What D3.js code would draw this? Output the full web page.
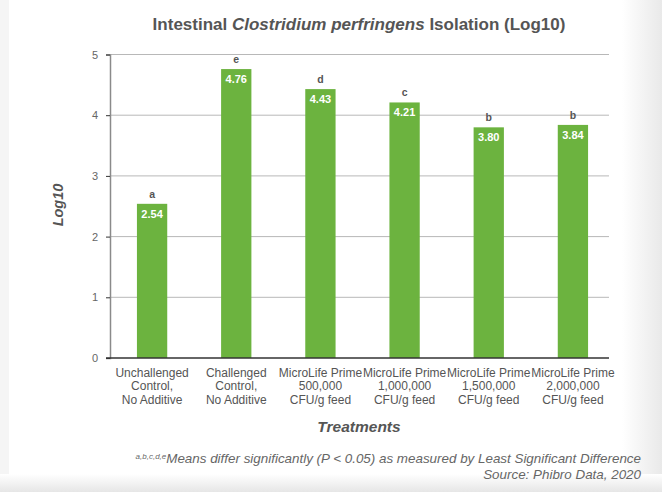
<!DOCTYPE html>
<html>
<head>
<meta charset="utf-8">
<script src="https://cdn.jsdelivr.net/npm/d3@7"></script>
<style>
  body { margin: 0; background: #fff; }
  svg { display: block; font-family: "Liberation Sans", Arial, sans-serif; }
</style>
</head>
<body>
<script>
// data
var treatments = [
  ["Unchallenged", "Control,", "No Additive"],
  ["Challenged", "Control,", "No Additive"],
  ["MicroLife Prime", "500,000", "CFU/g feed"],
  ["MicroLife Prime", "1,000,000", "CFU/g feed"],
  ["MicroLife Prime", "1,500,000", "CFU/g feed"],
  ["MicroLife Prime", "2,000,000", "CFU/g feed"]
];
var values = [2.54, 4.76, 4.43, 4.21, 3.80, 3.84];
var letters = ["a", "e", "d", "c", "b", "b"];
var yTicks = [0, 1, 2, 3, 4, 5];

var W = 662, H = 492;
var svg = d3.select("body").append("svg")
    .attr("width", W)
    .attr("height", H);

// page background: soft grey edges around a white sheet
var defs = svg.append("defs");
var gr = defs.append("linearGradient").attr("id", "rightfade")
    .attr("x1", 0).attr("x2", 1).attr("y1", 0).attr("y2", 0);
gr.append("stop").attr("offset", "0%").attr("stop-color", "#fff");
gr.append("stop").attr("offset", "100%").attr("stop-color", "#e9e9e9");
var gb = defs.append("linearGradient").attr("id", "bottomfade")
    .attr("x1", 0).attr("x2", 0).attr("y1", 0).attr("y2", 1);
gb.append("stop").attr("offset", "0%").attr("stop-color", "#fff");
gb.append("stop").attr("offset", "100%").attr("stop-color", "#e6e6e6");

svg.append("rect").attr("width", W).attr("height", H).attr("fill", "#fff");
svg.append("rect").attr("x", 0).attr("width", 9).attr("height", H).attr("fill", "#f5f5f5");
svg.append("rect").attr("x", 622).attr("width", 40).attr("height", H).attr("fill", "url(#rightfade)");
svg.append("rect").attr("y", 474).attr("width", W).attr("height", 18).attr("fill", "url(#bottomfade)");

// scales
var x = d3.scaleBand()
    .domain(d3.range(values.length))
    .range([110, 615])
    .paddingInner(0.64)
    .paddingOuter(0.32);

var y = d3.scaleLinear().domain([0, 5]).range([358, 54.5]);

var plotRight = 609;

// grid lines
svg.append("g")
  .selectAll("line")
  .data(yTicks.filter(function(d) { return d > 0; }))
  .enter().append("line")
    .attr("x1", 110).attr("x2", plotRight)
    .attr("y1", function(d) { return y(d); })
    .attr("y2", function(d) { return y(d); })
    .attr("stroke", "#b8b8b8")
    .attr("stroke-width", 1);

// y axis
var yAxis = svg.append("g")
    .attr("transform", "translate(110,0)")
    .call(d3.axisLeft(y).tickValues(yTicks).tickFormat(d3.format("d")).tickSize(4).tickPadding(8));
yAxis.select(".domain").attr("stroke", "#8a8a8a").attr("stroke-width", 1.5);
yAxis.selectAll(".tick line").attr("stroke", "#333");
yAxis.selectAll(".tick text")
    .attr("fill", "#666")
    .style("font-size", "11px")
    .style("font-family", "Liberation Sans, Arial, sans-serif");

// bars
var bars = svg.append("g").selectAll("g")
    .data(values)
    .enter().append("g");

bars.append("rect")
    .attr("x", function(d, i) { return x(i); })
    .attr("y", function(d) { return y(d); })
    .attr("width", x.bandwidth())
    .attr("height", function(d) { return y(0) - y(d); })
    .attr("fill", "#6cb33f");

bars.append("text")
    .attr("x", function(d, i) { return x(i) + x.bandwidth() / 2; })
    .attr("y", function(d) { return y(d) + 14; })
    .attr("text-anchor", "middle")
    .attr("fill", "#fff")
    .style("font-size", "11px")
    .style("font-weight", "bold")
    .text(function(d) { return d.toFixed(2); });

bars.append("text")
    .attr("x", function(d, i) { return x(i) + x.bandwidth() / 2; })
    .attr("y", function(d) { return y(d) - 6; })
    .attr("text-anchor", "middle")
    .attr("fill", "#555")
    .style("font-size", "10.5px")
    .style("font-weight", "bold")
    .text(function(d, i) { return letters[i]; });

// baseline
svg.append("line")
    .attr("x1", 106).attr("x2", plotRight)
    .attr("y1", y(0)).attr("y2", y(0))
    .attr("stroke", "#333").attr("stroke-width", 1.5);

// category labels
var cat = svg.append("g").selectAll("text")
    .data(treatments)
    .enter().append("text")
    .attr("text-anchor", "middle")
    .attr("fill", "#555")
    .style("font-size", "12px");
cat.each(function(lines, i) {
  var t = d3.select(this);
  lines.forEach(function(l, j) {
    t.append("tspan")
      .attr("x", x(i) + x.bandwidth() / 2)
      .attr("y", 377 + j * 13.4)
      .text(l);
  });
});

// title
var title = svg.append("text")
    .attr("x", 359)
    .attr("y", 30)
    .attr("text-anchor", "middle")
    .attr("fill", "#555")
    .style("font-size", "17px")
    .style("font-weight", "bold");
title.append("tspan").text("Intestinal ");
title.append("tspan").style("font-style", "italic").text("Clostridium perfringens");
title.append("tspan").text(" Isolation (Log10)");

// axis titles
svg.append("text")
    .attr("transform", "translate(63,205) rotate(-90)")
    .attr("text-anchor", "middle")
    .attr("fill", "#555")
    .style("font-size", "14.5px")
    .style("font-weight", "bold")
    .style("font-style", "italic")
    .text("Log10");

svg.append("text")
    .attr("x", 359)
    .attr("y", 432)
    .attr("text-anchor", "middle")
    .attr("fill", "#555")
    .style("font-size", "15.5px")
    .style("font-weight", "bold")
    .style("font-style", "italic")
    .text("Treatments");

// footnotes
var note = svg.append("text")
    .attr("x", 641)
    .attr("y", 463)
    .attr("text-anchor", "end")
    .attr("fill", "#666")
    .style("font-size", "13.4px")
    .style("font-style", "italic");
note.append("tspan").attr("dy", "-4").style("font-size", "8px").text("a,b,c,d,e");
note.append("tspan").attr("dy", "4").text("Means differ significantly (P < 0.05) as measured by Least Significant Difference");

svg.append("text")
    .attr("x", 641)
    .attr("y", 479)
    .attr("text-anchor", "end")
    .attr("fill", "#666")
    .style("font-size", "13.4px")
    .style("font-style", "italic")
    .text("Source: Phibro Data, 2020");
</script>
</body>
</html>
